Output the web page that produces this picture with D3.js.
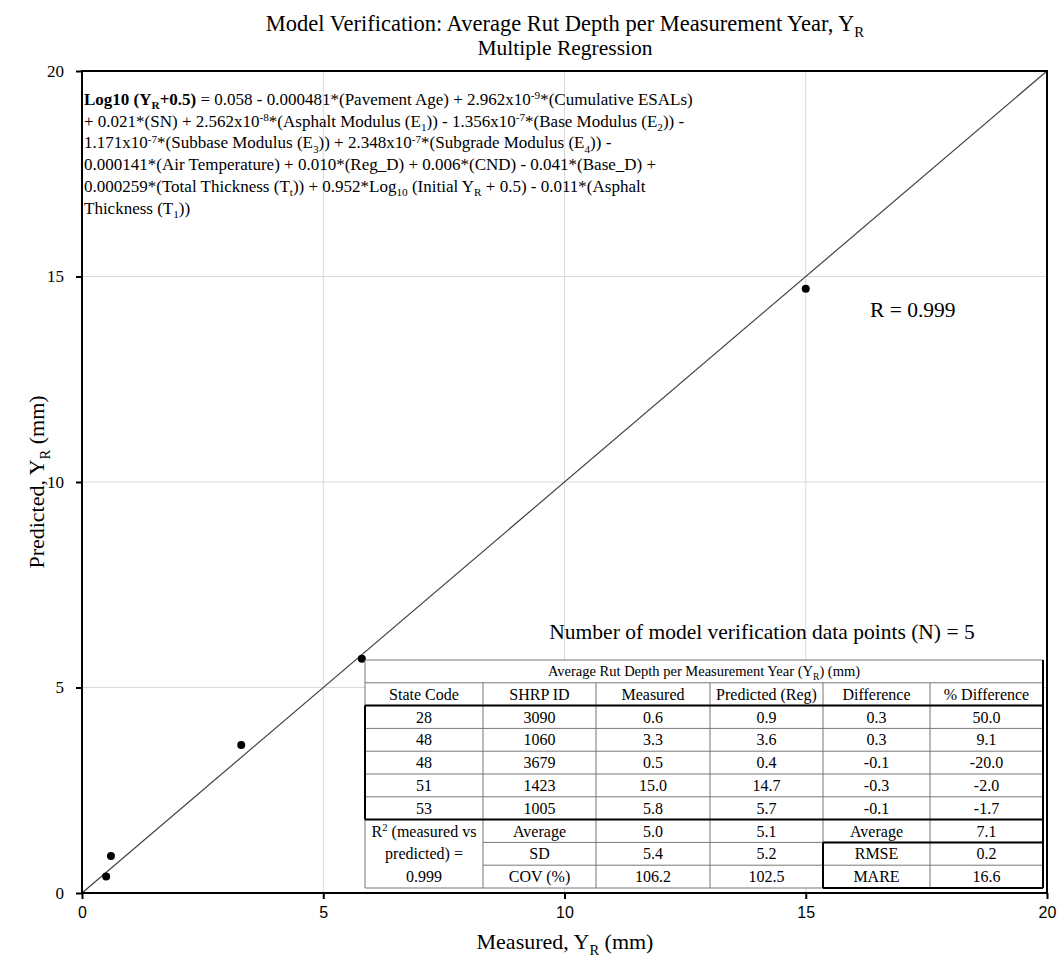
<!DOCTYPE html>
<html>
<head>
<meta charset="utf-8">
<script src="https://cdn.jsdelivr.net/npm/d3@7"></script>
<style>
body { margin: 0; background: #fff; }
text { font-family: "Times New Roman", "Liberation Serif", serif; fill: #000; }
</style>
</head>
<body>
<div id="chart"></div>
<script>
// Data
const measured = [0.6, 3.3, 0.5, 15.0, 5.8];
const predicted = [0.9, 3.6, 0.4, 14.7, 5.7];
const stateCodes = ['28', '48', '48', '51', '53'];
const shrpIds = ['3090', '1060', '3679', '1423', '1005'];
const difference = ['0.3', '0.3', '-0.1', '-0.3', '-0.1'];
const pctDifference = ['50.0', '9.1', '-20.0', '-2.0', '-1.7'];
const columnHeaders = ['State Code', 'SHRP ID', 'Measured', 'Predicted (Reg)', 'Difference', '% Difference'];
const statLabels = ['Average', 'SD', 'COV (%)'];
const statMeasured = ['5.0', '5.4', '106.2'];
const statPredicted = ['5.1', '5.2', '102.5'];
const errLabels = ['Average', 'RMSE', 'MARE'];
const errValues = ['7.1', '0.2', '16.6'];
const xTicks = [0, 5, 10, 15, 20];
const yTicks = [0, 5, 10, 15, 20];

// Equation lines: [text, style] with style n | b | bsub | sub | sup
const equationLines = [
    [['Log10 (Y', 'b'], ['R', 'bsub'], ['+0.5)', 'b'], [' = 0.058 - 0.000481*(Pavement Age) + 2.962x10', 'n'], ['-9', 'sup'], ['*(Cumulative ESALs)', 'n']],
    [['+ 0.021*(SN) + 2.562x10', 'n'], ['-8', 'sup'], ['*(Asphalt Modulus (E', 'n'], ['1', 'sub'], [')) - 1.356x10', 'n'], ['-7', 'sup'], ['*(Base Modulus (E', 'n'], ['2', 'sub'], [')) -', 'n']],
    [['1.171x10', 'n'], ['-7', 'sup'], ['*(Subbase Modulus (E', 'n'], ['3', 'sub'], [')) + 2.348x10', 'n'], ['-7', 'sup'], ['*(Subgrade Modulus (E', 'n'], ['4', 'sub'], [')) -', 'n']],
    [['0.000141*(Air Temperature) + 0.010*(Reg_D) + 0.006*(CND) - 0.041*(Base_D) +', 'n']],
    [['0.000259*(Total Thickness (T', 'n'], ['t', 'sub'], [')) + 0.952*Log', 'n'], ['10', 'sub'], [' (Initial Y', 'n'], ['R', 'sub'], [' + 0.5) - 0.011*(Asphalt', 'n']],
    [['Thickness (T', 'n'], ['1', 'sub'], ['))', 'n']]
];

const W = 1062, H = 960;
const plot = { left: 82, right: 1047, top: 71, bottom: 893 };

const svg = d3.select('#chart').append('svg')
    .attr('width', W)
    .attr('height', H);

const x = d3.scaleLinear().domain([0, 20]).range([plot.left, plot.right]);
const y = d3.scaleLinear().domain([0, 20]).range([plot.bottom, plot.top]);

// text with sub/superscripts
function rich(g, px, py, segs, size, anchor) {
    const t = g.append('text')
        .attr('x', px)
        .attr('y', py)
        .attr('font-size', size)
        .attr('text-anchor', anchor || 'start');
    let off = 0;
    segs.forEach(([s, st]) => {
        const isSub = st === 'sub' || st === 'bsub';
        const isSup = st === 'sup';
        const target = isSub ? size * 0.25 : isSup ? -size * 0.33 : 0;
        const ts = t.append('tspan').attr('dy', target - off).text(s);
        off = target;
        if (isSub || isSup) ts.attr('font-size', size * 0.66);
        if (st === 'b' || st === 'bsub') ts.attr('font-weight', 'bold');
    });
    return t;
}

// gridlines
svg.append('g')
    .selectAll('line')
    .data(xTicks.slice(1, -1))
    .join('line')
    .attr('x1', d => x(d)).attr('x2', d => x(d))
    .attr('y1', plot.top).attr('y2', plot.bottom)
    .attr('stroke', '#d9d9d9').attr('stroke-width', 1);

svg.append('g')
    .selectAll('line')
    .data(yTicks.slice(1, -1))
    .join('line')
    .attr('x1', plot.left).attr('x2', plot.right)
    .attr('y1', d => y(d)).attr('y2', d => y(d))
    .attr('stroke', '#d9d9d9').attr('stroke-width', 1);

// 1:1 line
svg.append('line')
    .attr('x1', x(0)).attr('y1', y(0))
    .attr('x2', x(20)).attr('y2', y(20))
    .attr('stroke', '#404040').attr('stroke-width', 1.2);

// points
svg.append('g')
    .selectAll('circle')
    .data(measured.map((m, i) => [m, predicted[i]]))
    .join('circle')
    .attr('cx', d => x(d[0]))
    .attr('cy', d => y(d[1]))
    .attr('r', 4)
    .attr('fill', '#000');

// axes
const xAxis = svg.append('g')
    .attr('transform', `translate(0,${plot.bottom})`)
    .call(d3.axisBottom(x).tickValues(xTicks).tickSize(6).tickPadding(8));
const yAxis = svg.append('g')
    .attr('transform', `translate(${plot.left},0)`)
    .call(d3.axisLeft(y).tickValues(yTicks).tickSize(6).tickPadding(12));
[xAxis, yAxis].forEach(a => {
    a.select('.domain').remove();
    a.selectAll('.tick line').attr('stroke', '#000').attr('stroke-width', 2);
    a.selectAll('.tick text').attr('font-size', 17).attr('fill', '#000');
});
xAxis.selectAll('.tick text').style('font-family', '"Liberation Sans", Arial, sans-serif').attr('font-size', 16);

// plot border
svg.append('rect')
    .attr('x', plot.left).attr('y', plot.top)
    .attr('width', plot.right - plot.left)
    .attr('height', plot.bottom - plot.top)
    .attr('fill', 'none')
    .attr('stroke', '#000')
    .attr('stroke-width', 2);

// titles
rich(svg, 565, 31, [['Model Verification: Average Rut Depth per Measurement Year, Y', 'n'], ['R', 'sub']], 22.5, 'middle');
rich(svg, 565, 55, [['Multiple Regression', 'n']], 21.5, 'middle');
rich(svg, 565, 949, [['Measured, Y', 'n'], ['R', 'sub'], [' (mm)', 'n']], 22, 'middle');
const yl = svg.append('g').attr('transform', `translate(44,${(plot.top + plot.bottom) / 2}) rotate(-90)`);
rich(yl, 0, 0, [['Predicted, Y', 'n'], ['R', 'sub'], [' (mm)', 'n']], 22, 'middle');

// equation
const eq = svg.append('g');
equationLines.forEach((segs, i) => {
    rich(eq, 84, 105 + i * 21.7, segs, 17);
});

rich(svg, 870, 317, [['R = 0.999', 'n']], 21.5);
rich(svg, 762, 639, [['Number of model verification data points (N) = 5', 'n']], 21.5, 'middle');

// table
const colEdges = [365, 483, 596, 710, 823, 930, 1043];
const rowH = 22.8;
const tTop = 660;
const rowsN = 10;
const tb = svg.append('g');
tb.append('rect')
    .attr('x', colEdges[0]).attr('y', tTop)
    .attr('width', colEdges[6] - colEdges[0])
    .attr('height', rowH * rowsN)
    .attr('fill', '#fff');

const thin = (x1, y1, x2, y2) => tb.append('line')
    .attr('x1', x1).attr('y1', y1).attr('x2', x2).attr('y2', y2)
    .attr('stroke', '#777').attr('stroke-width', 1);
const thick = (x1, y1, x2, y2) => tb.append('line')
    .attr('x1', x1).attr('y1', y1).attr('x2', x2).attr('y2', y2)
    .attr('stroke', '#000').attr('stroke-width', 2);

const rowY = r => tTop + r * rowH;
// horizontal lines
for (let r = 0; r <= rowsN; r++) {
    if (r >= 8 && r <= 9) {
        thin(colEdges[1], rowY(r), colEdges[6], rowY(r));
    } else {
        thin(colEdges[0], rowY(r), colEdges[6], rowY(r));
    }
}
// vertical lines
colEdges.forEach((cx, i) => {
    const y0 = (i === 0 || i === 6) ? rowY(0) : rowY(1);
    thin(cx, y0, cx, rowY(rowsN));
});
// heavy borders around data block and error box
thick(colEdges[0], rowY(2), colEdges[6], rowY(2));
thick(colEdges[0], rowY(7), colEdges[6], rowY(7));
thick(colEdges[0], rowY(2), colEdges[0], rowY(7));
thick(colEdges[6], rowY(0), colEdges[6], rowY(rowsN));
thick(colEdges[4], rowY(8), colEdges[6], rowY(8));
thick(colEdges[4], rowY(8), colEdges[4], rowY(rowsN));
thick(colEdges[4], rowY(rowsN), colEdges[6], rowY(rowsN));

const cellText = (ci, r, segs, size) => {
    const cx = (colEdges[ci] + colEdges[ci + 1]) / 2;
    rich(tb, cx, rowY(r) + rowH / 2 + 5.5, segs, size || 16, 'middle');
};

rich(tb, (colEdges[0] + colEdges[6]) / 2, rowY(0) + rowH / 2 + 5,
    [['Average Rut Depth per Measurement Year (Y', 'n'], ['R', 'sub'], [') (mm)', 'n']], 14.5, 'middle');
columnHeaders.forEach((h, ci) => cellText(ci, 1, [[h, 'n']]));

const dataCols = [stateCodes, shrpIds, measured.map(d => d.toFixed(1)), predicted.map(d => d.toFixed(1)), difference, pctDifference];
dataCols.forEach((col, ci) => {
    col.forEach((v, r) => cellText(ci, r + 2, [[v, 'n']]));
});

const statCols = [statLabels, statMeasured, statPredicted, errLabels, errValues];
statCols.forEach((col, k) => {
    col.forEach((v, r) => cellText(k + 1, r + 7, [[v, 'n']]));
});
cellText(0, 7, [['R', 'n'], ['2', 'sup'], [' (measured vs', 'n']]);
cellText(0, 8, [['predicted) =', 'n']]);
cellText(0, 9, [['0.999', 'n']]);
</script>
</body>
</html>
